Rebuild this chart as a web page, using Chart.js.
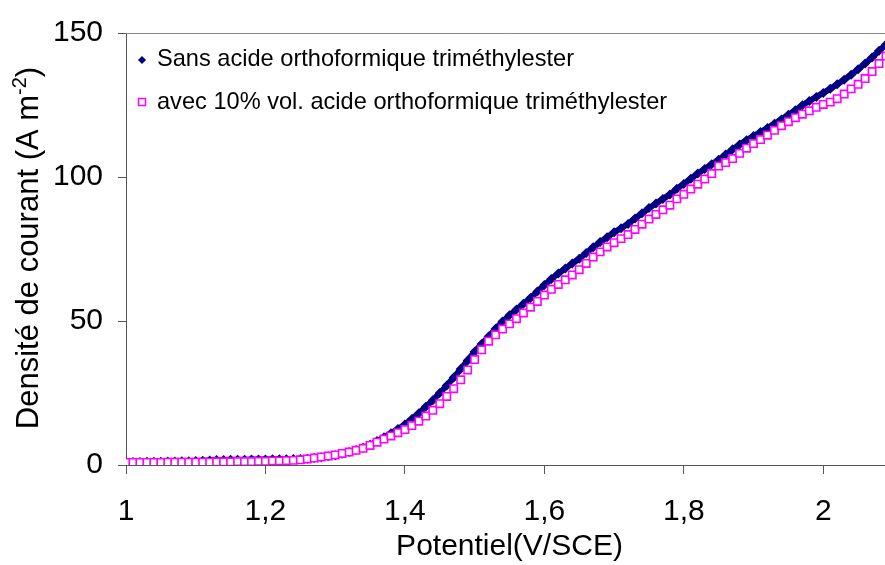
<!DOCTYPE html>
<html>
<head>
<meta charset="utf-8">
<script src="https://cdn.jsdelivr.net/npm/chart.js@4.4.0/dist/chart.umd.min.js"></script>
<style>
  html, body { margin: 0; padding: 0; background: #fff; overflow: hidden; }
  #wrap { width: 885px; height: 565px; overflow: hidden; }
  #wrap div { width: 900px; height: 565px; }
</style>
</head>
<body>
<div id="wrap"><div><canvas id="chart" width="900" height="565"></canvas></div></div>
<script>
// Potential (V/SCE), every 0.01 V
const potentiel = [
  1.00, 1.01, 1.02, 1.03, 1.04, 1.05, 1.06, 1.07, 1.08, 1.09,
  1.10, 1.11, 1.12, 1.13, 1.14, 1.15, 1.16, 1.17, 1.18, 1.19,
  1.20, 1.21, 1.22, 1.23, 1.24, 1.25, 1.26, 1.27, 1.28, 1.29,
  1.30, 1.31, 1.32, 1.33, 1.34, 1.35, 1.36, 1.37, 1.38, 1.39,
  1.40, 1.41, 1.42, 1.43, 1.44, 1.45, 1.46, 1.47, 1.48, 1.49,
  1.50, 1.51, 1.52, 1.53, 1.54, 1.55, 1.56, 1.57, 1.58, 1.59,
  1.60, 1.61, 1.62, 1.63, 1.64, 1.65, 1.66, 1.67, 1.68, 1.69,
  1.70, 1.71, 1.72, 1.73, 1.74, 1.75, 1.76, 1.77, 1.78, 1.79,
  1.80, 1.81, 1.82, 1.83, 1.84, 1.85, 1.86, 1.87, 1.88, 1.89,
  1.90, 1.91, 1.92, 1.93, 1.94, 1.95, 1.96, 1.97, 1.98, 1.99,
  2.00, 2.01, 2.02, 2.03, 2.04, 2.05, 2.06, 2.07, 2.08, 2.09
];

// Current density (A m-2) without additive
const sansAcide = [
  1.0, 1.0, 1.0, 1.1, 1.1, 1.1, 1.2, 1.2, 1.3, 1.3,
  1.4, 1.5, 1.6, 1.7, 1.7, 1.8, 1.8, 1.8, 1.9, 1.9,
  1.9, 2.0, 2.0, 2.0, 2.1, 2.1, 2.2, 2.4, 2.7, 3.0,
  3.4, 3.9, 4.5, 5.2, 6.0, 7.0, 8.3, 9.6, 11.0, 12.5,
  14.1, 16.0, 18.0, 20.2, 22.5, 25.0, 27.6, 30.4, 33.3, 36.3,
  39.3, 42.0, 44.6, 47.3, 49.8, 52.0, 54.0, 56.0, 58.0, 60.2,
  62.5, 64.6, 66.5, 68.2, 70.0, 71.6, 73.6, 75.6, 77.4, 79.1,
  80.8, 82.2, 83.7, 85.6, 87.4, 89.2, 90.8, 92.4, 93.9, 95.9,
  97.6, 99.4, 101.2, 102.8, 104.4, 106.0, 107.8, 109.6, 111.3, 112.8,
  114.2, 115.6, 117.0, 118.5, 120.0, 121.6, 123.2, 124.9, 126.4, 127.8,
  129.2, 130.6, 132.2, 133.8, 135.5, 137.4, 139.4, 141.5, 143.8, 146.0
];

// Current density (A m-2) with 10% vol. additive
const avecAcide = [
  0.9, 0.9, 0.9, 0.9, 0.9, 0.9, 1.0, 1.0, 1.0, 1.0,
  1.0, 1.0, 1.0, 1.1, 1.1, 1.1, 1.2, 1.2, 1.2, 1.3,
  1.3, 1.4, 1.4, 1.5, 1.6, 1.8, 2.1, 2.4, 2.8, 3.1,
  3.5, 4.0, 4.5, 5.1, 5.8, 6.8, 7.9, 9.0, 10.1, 11.2,
  12.3, 13.7, 15.2, 17.0, 19.0, 21.3, 23.8, 26.5, 29.6, 33.0,
  36.6, 40.0, 43.0, 45.2, 47.2, 49.0, 50.8, 52.8, 54.8, 56.8,
  59.0, 61.0, 62.7, 64.3, 66.0, 67.8, 70.0, 72.2, 74.0, 75.7,
  77.2, 78.6, 80.0, 81.8, 83.6, 85.4, 87.0, 88.6, 90.2, 92.4,
  94.0, 95.8, 97.5, 99.3, 101.2, 103.8, 105.0, 106.4, 108.2, 110.0,
  111.6, 113.0, 114.5, 116.2, 117.8, 119.2, 120.6, 121.8, 123.0, 124.2,
  125.2, 126.0, 127.2, 128.8, 130.6, 132.2, 134.2, 136.6, 139.4, 142.0
];

const seriesNames = [
  'Sans acide orthoformique triméthylester',
  'avec 10% vol. acide orthoformique triméthylester'
];

const xTickValues = [1, 1.2, 1.4, 1.6, 1.8, 2];
const xTickLabels = ['1', '1,2', '1,4', '1,6', '1,8', '2'];
const yTickValues = [0, 50, 100, 150];
const yTickLabels = ['0', '50', '100', '150'];

const FONT = "'Liberation Sans', Arial, sans-serif";
const AXIS = '#555555';

function toPoints(ys) {
  return potentiel.map((x, i) => ({ x: x, y: ys[i] }));
}

// Legend drawn inside the plot area, top left
const legendInside = {
  id: 'legendInside',
  afterDraw(chart) {
    const ctx = chart.ctx;
    const area = chart.chartArea;
    ctx.save();
    ctx.textBaseline = 'alphabetic';
    const mx = area.left + 16;
    const rows = [area.top + 27, area.top + 69];
    // diamond
    ctx.fillStyle = '#000080';
    ctx.beginPath();
    ctx.moveTo(mx, rows[0] - 4);
    ctx.lineTo(mx + 4, rows[0]);
    ctx.lineTo(mx, rows[0] + 4);
    ctx.lineTo(mx - 4, rows[0]);
    ctx.closePath();
    ctx.fill();
    // hollow square
    ctx.fillStyle = '#fff';
    ctx.strokeStyle = '#ff00ff';
    ctx.lineWidth = 1.5;
    ctx.fillRect(mx - 3.5, rows[1] - 3.5, 7, 7);
    ctx.strokeRect(mx - 3.5, rows[1] - 3.5, 7, 7);
    ctx.font = '23.6px ' + FONT;
    ctx.fillStyle = '#000';
    ctx.fillText(seriesNames[0], mx + 15, rows[0] + 6);
    ctx.fillText(seriesNames[1], mx + 15, rows[1] + 7);
    ctx.restore();
  }
};

// Y title with a superscript exponent
const yTitle = {
  id: 'yTitle',
  afterDraw(chart) {
    const ctx = chart.ctx;
    const main = 'Densité de courant (A m';
    const sup = '-2';
    const tail = ')';
    ctx.save();
    ctx.fillStyle = '#000';
    ctx.textBaseline = 'alphabetic';
    ctx.font = '31px ' + FONT;
    const w1 = ctx.measureText(main).width;
    const w3 = ctx.measureText(tail).width;
    ctx.font = '20px ' + FONT;
    const w2 = ctx.measureText(sup).width;
    const total = w1 + w2 + w3;
    const cy = 248;
    ctx.translate(38, cy + total / 2);
    ctx.rotate(-Math.PI / 2);
    ctx.font = '31px ' + FONT;
    ctx.fillText(main, 0, 0);
    ctx.font = '20px ' + FONT;
    ctx.fillText(sup, w1, -12);
    ctx.font = '31px ' + FONT;
    ctx.fillText(tail, w1 + w2, 0);
    ctx.restore();
  }
};

// Top frame line of the plot area
const topFrame = {
  id: 'topFrame',
  afterDraw(chart) {
    const ctx = chart.ctx;
    const area = chart.chartArea;
    ctx.save();
    ctx.strokeStyle = '#888888';
    ctx.lineWidth = 1;
    ctx.beginPath();
    ctx.moveTo(area.left, area.top + 0.5);
    ctx.lineTo(area.right, area.top + 0.5);
    ctx.stroke();
    ctx.restore();
  }
};

new Chart(document.getElementById('chart'), {
  type: 'scatter',
  data: {
    datasets: [
      {
        label: seriesNames[0],
        data: toPoints(sansAcide),
        pointStyle: 'rectRot',
        pointRadius: 5,
        backgroundColor: '#000080',
        borderColor: '#000080',
        borderWidth: 6,
        pointBorderWidth: 0,
        showLine: true,
        order: 1
      },
      {
        label: seriesNames[1],
        data: toPoints(avecAcide),
        pointStyle: 'rect',
        pointRadius: 5.2,
        backgroundColor: '#ffffff',
        borderColor: '#ff00ff',
        borderWidth: 1.6,
        showLine: false,
        order: 0
      }
    ]
  },
  options: {
    responsive: false,
    animation: false,
    events: [],
    layout: { padding: { top: 30, right: 7, left: 0, bottom: 0 } },
    plugins: {
      legend: { display: false },
      tooltip: { enabled: false }
    },
    scales: {
      x: {
        type: 'linear',
        min: 1,
        max: 2.1,
        afterBuildTicks: s => { s.ticks = xTickValues.map(v => ({ value: v })); },
        afterFit: s => { s.height = 100; },
        border: { color: AXIS, width: 1 },
        grid: { drawOnChartArea: false, drawTicks: true, tickLength: 9, color: AXIS },
        ticks: {
          color: '#000',
          font: { family: FONT, size: 30 },
          padding: 20,
          maxRotation: 0,
          autoSkip: false,
          callback: (v, i) => xTickLabels[i]
        },
        title: {
          display: true,
          text: 'Potentiel(V/SCE)',
          color: '#000',
          font: { family: FONT, size: 30 },
          padding: { top: 0, bottom: 0 }
        }
      },
      y: {
        type: 'linear',
        min: 0,
        max: 150,
        afterBuildTicks: s => { s.ticks = yTickValues.map(v => ({ value: v })); },
        afterFit: s => { s.width = 126; },
        border: { color: AXIS, width: 1 },
        grid: { drawOnChartArea: false, drawTicks: true, tickLength: 8, color: AXIS },
        ticks: {
          color: '#000',
          font: { family: FONT, size: 30 },
          padding: 15,
          autoSkip: false,
          callback: (v, i) => yTickLabels[i]
        }
      }
    }
  },
  plugins: [legendInside, yTitle, topFrame]
});
</script>
</body>
</html>
